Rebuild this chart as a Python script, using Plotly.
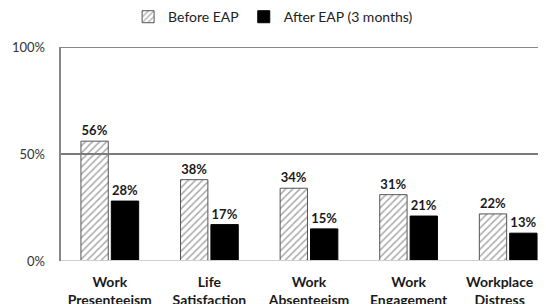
import plotly.graph_objects as go

categories = ["Work<br>Presenteeism", "Life<br>Satisfaction", "Work<br>Absenteeism",
              "Work<br>Engagement",
              "Workplace\u00a0\u00a0\u00a0\u00a0\u00a0<br>Distress\u00a0\u00a0\u00a0\u00a0\u00a0"]
before_eap = [0.56, 0.38, 0.34, 0.31, 0.22]
after_eap = [0.28, 0.17, 0.15, 0.21, 0.13]
series_names = ["Before EAP", "After EAP (3 months)"]
ytick_vals = [0, 0.5, 1.0]
ytick_text = ["0%", "50%", "100%"]

FONT = "Lato, 'Open Sans', sans-serif"

fig = go.Figure()
fig.add_trace(go.Bar(
    x=categories, y=before_eap, name=series_names[0],
    marker=dict(color="white", line=dict(color="#555555", width=1),
                pattern=dict(shape="/", fgcolor="#555555", bgcolor="white",
                             size=5, solidity=0.3)),
    text=[f"{v:.0%}" for v in before_eap], textposition="outside",
    textfont=dict(family=FONT, size=13, color="#1a1a1a", weight="bold"),
    cliponaxis=False,
))
fig.add_trace(go.Bar(
    x=categories, y=after_eap, name=series_names[1],
    marker=dict(color="black", line=dict(color="black", width=1)),
    text=[f"{v:.0%}" for v in after_eap], textposition="outside",
    textfont=dict(family=FONT, size=13, color="#1a1a1a", weight="bold"),
    cliponaxis=False,
))

fig.update_layout(
    width=546, height=304,
    margin=dict(l=52, r=0, t=39, b=51),
    paper_bgcolor="white", plot_bgcolor="white",
    barmode="group", bargap=0.39, bargroupgap=0.1,
    font=dict(family=FONT, size=12, color="#222222"),
    showlegend=True,
    legend=dict(orientation="h", x=0.22, xanchor="left", y=0.97, yanchor="middle",
                yref="container", xref="container",
                font=dict(family=FONT, size=14, color="#222222"),
                itemwidth=30, traceorder="normal"),
    xaxis=dict(range=[-0.5, 4.46], showline=False, ticks="", showgrid=False,
               automargin=False, ticklabelstandoff=11,
               tickfont=dict(family=FONT, size=14, color="#1a1a1a", weight="bold")),
    yaxis=dict(range=[0, 1.0], tickvals=ytick_vals, ticktext=ytick_text,
               showgrid=False, zeroline=False, showline=False, automargin=False,
               tickfont=dict(family=FONT, size=13, color="#333333"), ticklabelstandoff=14),
    shapes=[
        dict(type="line", xref="paper", yref="y", x0=0, x1=1, y0=0, y1=0,
             line=dict(color="#cfcfcf", width=2), layer="above"),
        dict(type="line", xref="paper", yref="y", x0=0, x1=1, y0=0.5, y1=0.5,
             line=dict(color="#7a7a7a", width=2), layer="above"),
        dict(type="line", xref="paper", yref="y", x0=0, x1=1, y0=1, y1=1,
             line=dict(color="#888888", width=2), layer="above"),
        dict(type="line", xref="paper", yref="y", x0=0, x1=0, y0=0, y1=1,
             line=dict(color="#888888", width=2), layer="above"),
    ],
)

fig.write_html("out.html")
